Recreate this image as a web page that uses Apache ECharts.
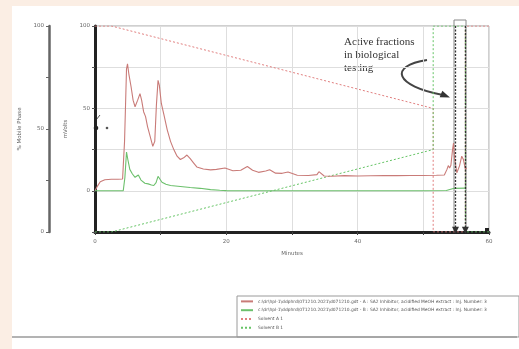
<!DOCTYPE html>
<html>
<head>
<meta charset="utf-8">
<script src="https://cdn.jsdelivr.net/npm/echarts@6/dist/echarts.min.js"></script>
<style>
html,body{margin:0;padding:0;background:#fbeee4;}
#c{width:519px;height:349px;}
</style>
</head>
<body>
<div id="c"></div>
<script>
// Channel A trace (mV) - minutes / value
var traceATime = [0,0.4,0.8,1.5,2.5,3.5,4.2,4.5,4.8,4.95,5.15,5.3,5.5,5.8,6.1,6.5,6.85,7.1,7.4,7.7,8.0,8.4,8.8,9.1,9.35,9.6,9.8,10.1,10.5,11.0,11.5,12.0,12.5,13.0,13.5,14.0,14.5,15.0,15.5,16.5,17.6,18.5,19.8,21.0,22.2,23.2,24.0,24.9,26.0,26.6,27.5,28.5,29.4,30.8,32.5,33.8,34.1,34.9,36,38,40,42,44,46,48,50,52,53.2,53.6,53.8,54.0,54.2,54.45,54.6,54.75,55.1,55.5,55.85,56.1,56.4,56.6];
var traceAValue = [0,3,5.5,6.7,7,7,7.2,30,74,77,71,70,63,55,51,55,59,55,48,45,39,33,27,30,52,67,64,53,46,37,30,25,21,19,20,21.7,19.5,17,14.5,13.2,12.7,13,13.8,12.2,12.5,14.7,12.5,11.2,12,12.8,10.7,10.6,11.4,9.4,9.3,9.8,11.6,9,8.8,9.2,9,9.1,9.2,9.2,9.3,9.3,9.4,9.6,13,15.3,13.8,15.5,25,29,20,11,15,21,19,13,14];
// Channel B trace (mV)
var traceBTime = [0,4.3,4.55,4.8,5.0,5.3,5.7,6.1,6.6,7.0,7.6,8.1,8.6,8.95,9.3,9.6,9.9,10.2,10.8,11.5,13,14.5,16,17.6,19,20,25,30,35,37,40,45,50,53.5,54.7,56.4];
var traceBValue = [0,0,8,23.5,19,13,10.2,8.2,9.6,6.5,4.6,4.2,3.5,3.2,5,8.8,7,5.2,4,3.2,2.6,2,1.5,0.7,0.3,0.1,0,0,0,0,0,0,0,0.2,1.5,1.6];
// Gradient program (% mobile phase)
var solventTime = [0,2.5,51.5,51.5,56.4,56.4,60];
var solventA = [100,100,60,0,0,100,100];
var solventB = [0,0,40,100,100,0,0];
// Fraction markers (minutes)
var fractionMarks = [54.9,56.4];
// Tick labels shown
var mvLabels = [0,50,100];
var phaseLabels = [0,50,100];
var minuteLabels = [0,20,40,60];

var names = [
  'c:\\dr\\hpl-1\\ddphrd\\071210.2021\\d071210.gdt - A : SA2 Inhibitor, acidified MeOH extract : Inj. Number: 3',
  'c:\\dr\\hpl-1\\ddphrd\\071210.2021\\d071210.gdt - B : SA2 Inhibitor, acidified MeOH extract : Inj. Number: 3',
  'Solvent A 1',
  'Solvent B 1'
];

function pairs(t,v){return t.map(function(x,i){return [x,v[i]];});}

var chart = echarts.init(document.getElementById('c'), null, {renderer:'canvas'});
var lblFont = {fontFamily:'DejaVu Sans', fontSize:5.5, color:'#666'};

chart.setOption({
  backgroundColor:'#fbeee4',
  animation:false,
  grid:{left:95,right:30,top:26,bottom:117,show:true,borderColor:'#a0a0a0',borderWidth:1,containLabel:false},
  legend:{
    orient:'vertical',left:240,top:299,itemWidth:12,itemHeight:6,itemGap:4,padding:0,
    itemStyle:{opacity:0},
    textStyle:{fontFamily:'DejaVu Sans',fontSize:4.4,color:'#555'},
    data:names
  },
  xAxis:{
    type:'value',min:0,max:60,interval:10,
    name:'Minutes',nameLocation:'middle',nameGap:19,
    nameTextStyle:{fontFamily:'DejaVu Sans',fontSize:5.5,color:'#666'},
    axisLine:{onZero:false,lineStyle:{color:'#222',width:3}},
    axisTick:{show:true,length:3,lineStyle:{color:'#444'}},
    axisLabel:Object.assign({margin:7,formatter:function(v){return minuteLabels.indexOf(v)>=0?String(v):'';}},lblFont),
    splitLine:{show:true,lineStyle:{color:'#dedede',width:1}}
  },
  yAxis:[
    {
      type:'value',min:-25,max:100,interval:25,position:'left',
      name:'mVolts',nameLocation:'middle',nameGap:25,
      nameTextStyle:{fontFamily:'DejaVu Sans',fontSize:5.5,color:'#666'},
      axisLine:{show:true,onZero:false,lineStyle:{color:'#222',width:3}},
      axisTick:{show:true,length:3,lineStyle:{color:'#555'}},
      axisLabel:Object.assign({margin:5,formatter:function(v){return mvLabels.indexOf(v)>=0?String(v):'';}},lblFont),
      splitLine:{show:true,lineStyle:{color:'#dedede',width:1}}
    },
    {
      type:'value',min:0,max:100,interval:25,position:'left',offset:46,
      name:'% Mobile Phase',nameLocation:'middle',nameGap:26,
      nameTextStyle:{fontFamily:'DejaVu Sans',fontSize:5.5,color:'#666'},
      axisLine:{show:true,onZero:false,lineStyle:{color:'#666',width:2.5}},
      axisTick:{show:true,length:3,lineStyle:{color:'#666'}},
      axisLabel:Object.assign({margin:5,formatter:function(v){return phaseLabels.indexOf(v)>=0?String(v):'';}},lblFont),
      splitLine:{show:false}
    }
  ],
  series:[
    {name:names[0],type:'line',yAxisIndex:0,symbol:'none',data:pairs(traceATime,traceAValue),
     lineStyle:{color:'#c97b78',width:1.1},itemStyle:{color:'#d06a6a'},z:4},
    {name:names[1],type:'line',yAxisIndex:0,symbol:'none',data:pairs(traceBTime,traceBValue),
     lineStyle:{color:'#6cc06c',width:1.1},itemStyle:{color:'#5cbc5c'},z:4,
     markLine:{silent:true,symbol:['none','triangle'],symbolSize:[7,7],label:{show:false},
       lineStyle:{color:'#333',type:[2,1.5],width:1.3},
       data:fractionMarks.map(function(m){return [{coord:[m,100]},{coord:[m,-24]}];})}},
    {name:names[2],type:'line',yAxisIndex:1,symbol:'none',data:pairs(solventTime,solventA),
     lineStyle:{color:'#e07f7f',width:1,type:[2,2]},itemStyle:{color:'#e07f7f'},z:3},
    {name:names[3],type:'line',yAxisIndex:1,symbol:'none',data:pairs(solventTime,solventB),
     lineStyle:{color:'#66c466',width:1,type:[2,2]},itemStyle:{color:'#66c466'},z:3}
  ],
  graphic:[
    {type:'rect',z:-100,silent:true,shape:{x:12,y:6,width:507,height:343},style:{fill:'#ffffff'}},
    {type:'line',silent:true,shape:{x1:12,y1:337,x2:517,y2:337},style:{stroke:'#9a9a9a',lineWidth:1.5}},
    {type:'rect',silent:true,shape:{x:237,y:296,width:282,height:41},style:{fill:'none',stroke:'#9a9a9a',lineWidth:1}},
    {type:'rect',silent:true,shape:{x:454,y:20,width:12,height:212},style:{fill:'none',stroke:'#888',lineWidth:1}},
    {type:'rect',silent:true,shape:{x:485,y:228,width:5,height:5},style:{fill:'#222'}},
    {type:'text',silent:true,left:344,top:36,style:{text:'Active fractions\nin biological\ntesting',fontFamily:'Liberation Serif',fontSize:11,lineHeight:13,fill:'#333'}},
    {type:'bezierCurve',silent:true,shape:{x1:427,y1:60,cpx1:388,cpy1:66,cpx2:395,cpy2:86,x2:443,y2:95},style:{stroke:'#444',lineWidth:2,fill:'none'}},
    {type:'polygon',silent:true,shape:{points:[[450,97.5],[439.7,97.3],[442.3,90.7]]},style:{fill:'#333'}},
    {type:'circle',silent:true,shape:{cx:96,cy:128,r:2.3},style:{fill:'#222'}},
    {type:'circle',silent:true,shape:{cx:107,cy:128,r:1.3},style:{fill:'#555'}},
    {type:'line',silent:true,shape:{x1:96,y1:120,x2:100,y2:115},style:{stroke:'#555',lineWidth:1}}
  ]
});
</script>
</body>
</html>
